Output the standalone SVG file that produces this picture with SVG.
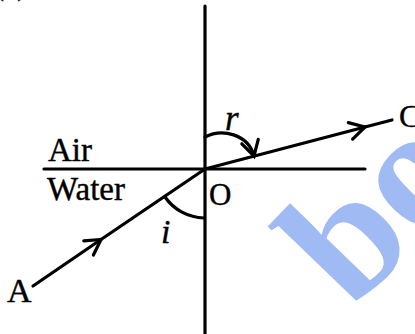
<svg xmlns="http://www.w3.org/2000/svg" width="415" height="334" viewBox="0 0 415 334">
<style>
.ln{stroke:#000;stroke-width:3.2;fill:none;stroke-linecap:round}
.t{font-family:"Liberation Serif","Times New Roman",serif;fill:#000;stroke:#000;stroke-width:0.4}
.it{font-style:italic}
.wm{font-family:"Liberation Serif","Times New Roman",serif;font-weight:bold;fill:#a0baf3}
</style>
<defs>
<marker id="arr" markerUnits="userSpaceOnUse" markerWidth="30" markerHeight="30" refX="0" refY="0" viewBox="-20 -15 30 30" orient="auto" overflow="visible">
<path d="M-15,-8.5 L0,0 L-15,8.5" fill="none" stroke="#000" stroke-width="3.2" stroke-linecap="round" stroke-linejoin="miter"/>
</marker>
</defs>
<rect width="415" height="334" fill="#fff"/>
<text class="t" x="-6" y="-5" font-size="30">(a)</text>
<g id="watermark">
<text class="wm" font-size="172" transform="translate(352,311) rotate(-46)">bo</text>
</g>
<g id="axes">
<line class="ln" x1="205" y1="6" x2="205" y2="334"/>
<line class="ln" x1="44" y1="169" x2="365" y2="169"/>
</g>
<g id="connectors">
<path class="ln" d="M33,286 L101,239.5" marker-end="url(#arr)"/>
<path class="ln" d="M101,239.5 L205,169"/>
<path class="ln" d="M205,169 L365,127" marker-end="url(#arr)"/>
<path class="ln" d="M365,127 L392,120"/>
<path class="ln" d="M205,137 C222,128 248,134 254,156" marker-end="url(#arr)"/>
<path class="ln" d="M165,197 A49,49 0 0 0 204,218"/>
</g>
<g id="labels">
<text class="t" x="48" y="161" font-size="33">Air</text>
<text class="t" x="47" y="200" font-size="33">Water</text>
<text class="t" x="209" y="205" font-size="31">O</text>
<text class="t it" x="161" y="243" font-size="34">i</text>
<text class="t it" x="225" y="130" font-size="35">r</text>
<text class="t" x="7" y="302" font-size="34">A</text>
<text class="t" x="399" y="127" font-size="32">C</text>
</g>
</svg>
